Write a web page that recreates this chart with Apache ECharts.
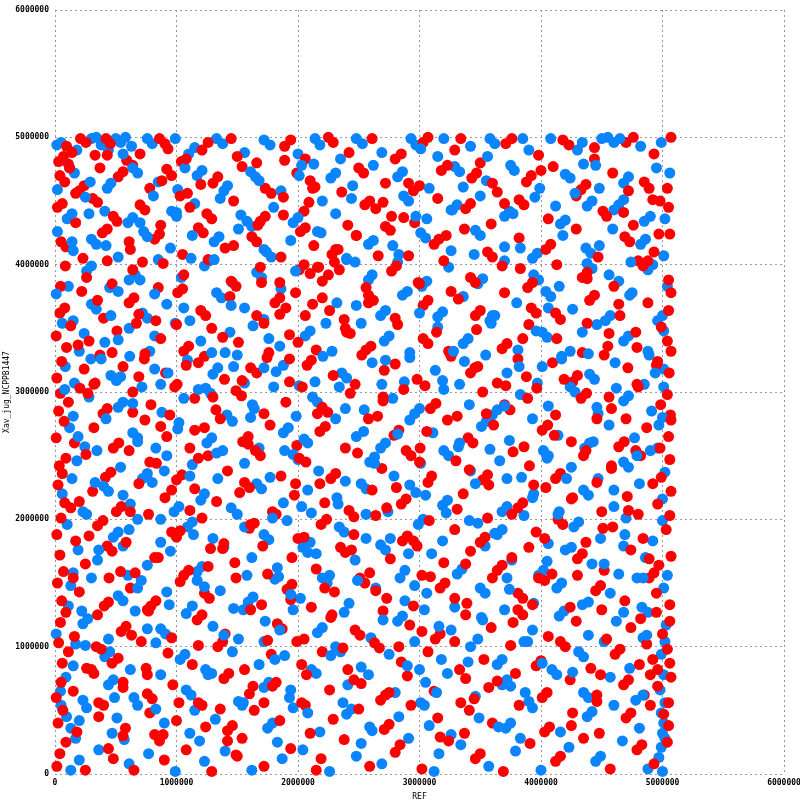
<!DOCTYPE html>
<html>
<head>
<meta charset="utf-8">
<script src="https://cdn.jsdelivr.net/npm/echarts@6/dist/echarts.min.js"></script>
<style>
html,body{margin:0;padding:0;background:#fff;}
#chart{width:800px;height:800px;}
</style>
</head>
<body>
<div id="chart"></div>
<script>
// positions in kb (x = REF, y = Xav_jug_NCPPB1447), read band by band from top to bottom
var redPts = [
[30,4810],[70,4850],[110,4790],[140,4880],[95,4930],[210,4990],[255,4960],[330,4860],[420,4990],[455,4950],[590,4820],[640,4780],[700,4870],[860,4990],[905,4950],[1040,4810],[1210,4900],[1260,4960],[1450,4990],[1500,4850],[1660,4800],[1890,4930],[1940,4980],[2060,4830],[2250,5000],[2290,4960],[2420,4880],[2610,4990],[2800,4830],[2850,4870],[3030,4960],[3070,5000],[3290,4900],[3340,4990],[3500,4800],[3710,4950],[3760,4990],[3980,4860],[4180,4980],[4230,4940],[4440,4830],[4700,4960],[4760,5000],[4930,4870],[5070,5000],
[40,4700],[80,4650],[200,4580],[240,4620],[370,4760],[520,4690],[560,4730],[780,4600],[920,4750],[960,4700],[1090,4560],[1300,4640],[1340,4690],[1540,4770],[1730,4600],[1780,4560],[1990,4720],[2100,4660],[2140,4610],[2360,4570],[2500,4760],[2540,4720],[2720,4640],[2950,4580],[3000,4620],[3180,4740],[3430,4680],[3470,4720],[3640,4570],[3880,4650],[3920,4700],[4100,4770],[4330,4590],[4370,4630],[4590,4720],[4850,4650],[4890,4600],[5040,4600],
[20,4450],[60,4480],[170,4330],[310,4520],[350,4490],[480,4380],[700,4470],[740,4430],[870,4310],[1030,4540],[1250,4400],[1290,4360],[1470,4500],[1690,4340],[1730,4380],[1880,4530],[2050,4420],[2410,4310],[2550,4470],[2590,4500],[2640,4440],[2700,4490],[2770,4380],[2960,4330],[3150,4520],[3380,4440],[3420,4480],[3590,4320],[3820,4510],[3860,4470],[4060,4360],[4290,4540],[4510,4420],[4540,4380],[4760,4310],[4980,4500],[5050,4450],
[50,4180],[90,4140],[230,4050],[390,4250],[430,4280],[620,4120],[820,4200],[860,4240],[1050,4080],[1180,4290],[1220,4250],[1400,4130],[1620,4220],[1660,4180],[1860,4060],[2020,4260],[2060,4290],[2130,4150],[2280,4080],[2330,4120],[2480,4230],[2720,4300],[2760,4270],[2910,4070],[3120,4160],[3160,4200],[3370,4280],[3560,4100],[3600,4060],[3820,4210],[4040,4120],[4080,4160],[4290,4280],[4470,4060],[4690,4220],[4730,4180],[4930,4100],[5060,4240],
[45,3830],[85,3990],[260,3900],[430,4030],[470,3850],[640,3960],[850,3820],[890,4010],[1060,3920],[1260,4040],[1450,3870],[1490,3830],[1690,3980],[1850,3860],[2010,3960],[2050,4000],[2100,3930],[2160,3980],[2200,3870],[2250,3920],[2300,4020],[2340,3960],[2560,3820],[2770,3950],[2810,3990],[3000,3850],[3200,4030],[3420,3900],[3460,3860],[3680,3990],[3890,3820],[3930,3860],[4130,4000],[4340,3900],[4380,3940],[4600,3830],[4840,3990],[4880,4030],[5050,3880],
[40,3620],[80,3660],[220,3790],[400,3580],[610,3700],[650,3740],[830,3560],[1010,3780],[1200,3640],[1240,3600],[1440,3750],[1660,3600],[1810,3700],[1850,3740],[1900,3660],[1980,3780],[2060,3600],[2120,3690],[2200,3740],[2260,3640],[2380,3570],[2580,3760],[2620,3720],[2800,3580],[3030,3680],[3070,3720],[3260,3790],[3460,3600],[3500,3640],[3700,3780],[3920,3660],[3960,3620],[4160,3570],[4400,3720],[4440,3760],[4650,3600],[4880,3700],[5050,3640],[5070,3780],
[10,3440],[95,3350],[130,3520],[280,3400],[470,3310],[510,3480],[670,3540],[870,3420],[1060,3320],[1100,3360],[1290,3500],[1510,3390],[1720,3540],[1760,3310],[1930,3450],[2150,3330],[2390,3500],[2430,3460],[2600,3360],[2820,3530],[3030,3420],[3070,3380],[3240,3320],[3470,3490],[3680,3340],[3720,3380],[3900,3530],[4130,3420],[4340,3310],[4380,3540],[4560,3460],[4790,3350],[4990,3510],[5040,3400],[5070,3320],
[15,3110],[55,3240],[240,3180],[330,3070],[370,3290],[560,3200],[690,3120],[735,3260],[910,3150],[1005,3060],[1180,3230],[1230,3280],[1395,3100],[1610,3190],[1660,3150],[1745,3270],[1930,3080],[2075,3210],[2110,3250],[2290,3130],[2470,3060],[2525,3290],[2710,3170],[2800,3220],[2980,3100],[3045,3050],[3260,3280],[3420,3150],[3455,3190],[3640,3070],[3810,3260],[3880,3120],[4095,3230],[4260,3080],[4300,3130],[4520,3290],[4715,3190],[4790,3060],[4960,3240],[5055,3150],
[30,2850],[45,2990],[110,2920],[205,3030],[395,2830],[430,2870],[640,3000],[790,2900],[945,2820],[985,3040],[1150,2950],[1325,2860],[1490,3010],[1535,2970],[1720,2830],[1900,2920],[2035,3040],[2200,2880],[2245,2840],[2430,2990],[2655,2810],[2700,2930],[2870,3020],[3090,2870],[3135,2910],[3310,2810],[3520,3000],[3700,2900],[3745,2860],[3965,3030],[4120,2820],[4330,2950],[4375,2990],[4580,2870],[4800,3040],[4985,2900],[5065,2820],[5040,2980],
[10,2640],[75,2770],[160,2600],[320,2720],[480,2560],[525,2600],[740,2780],[920,2650],[1110,2560],[1150,2700],[1360,2790],[1545,2610],[1590,2650],[1770,2740],[1990,2580],[2180,2690],[2225,2730],[2390,2560],[2580,2790],[2790,2660],[2830,2700],[3005,2560],[3230,2780],[3400,2640],[3440,2600],[3610,2740],[3860,2570],[4010,2700],[4055,2740],[4250,2610],[4460,2790],[4640,2570],[4685,2610],[4870,2720],[5050,2650],[5070,2780],
[35,2420],[60,2360],[255,2510],[415,2330],[460,2370],[610,2540],[835,2440],[1000,2310],[1045,2350],[1260,2500],[1420,2380],[1650,2540],[1690,2500],[1860,2340],[2065,2450],[2270,2320],[2310,2360],[2490,2520],[2690,2400],[2890,2540],[2930,2500],[3100,2340],[3300,2460],[3520,2310],[3560,2350],[3770,2530],[3905,2420],[4120,2320],[4160,2360],[4350,2500],[4580,2400],[4780,2540],[4820,2500],[4990,2330],[5060,2470],
[25,2270],[80,2130],[130,2090],[310,2220],[505,2060],[545,2100],[690,2280],[905,2170],[1110,2070],[1150,2240],[1330,2140],[1560,2290],[1600,2250],[1790,2060],[1970,2190],[2180,2280],[2220,2130],[2420,2070],[2610,2230],[2850,2120],[2890,2160],[3070,2290],[3310,2080],[3360,2200],[3570,2270],[3810,2090],[3850,2130],[4040,2250],[4250,2160],[4460,2290],[4500,2060],[4710,2180],[4920,2280],[4960,2120],[5070,2220],
[15,1880],[50,2010],[170,1830],[350,1950],[395,1990],[585,1820],[770,2040],[960,1900],[1000,1860],[1210,2010],[1390,1810],[1600,1930],[1640,1970],[1820,2040],[2000,1850],[2190,1960],[2235,2000],[2460,1880],[2640,2030],[2860,1830],[2900,1870],[3080,1990],[3290,1920],[3500,1820],[3540,1860],[3760,2040],[3960,1900],[4140,2000],[4180,1960],[4370,1820],[4590,1940],[4800,2040],[4840,1850],[5030,1920],[5060,2030],
[40,1720],[70,1590],[250,1650],[430,1790],[470,1750],[660,1580],[850,1700],[1060,1560],[1100,1600],[1280,1770],[1480,1660],[1710,1790],[1750,1570],[1950,1700],[2150,1610],[2350,1780],[2390,1740],[2590,1580],[2760,1690],[2980,1790],[3020,1560],[3200,1660],[3420,1750],[3640,1600],[3680,1640],[3900,1780],[4090,1570],[4300,1690],[4340,1730],[4520,1600],[4740,1760],[4930,1580],[4970,1640],[5070,1710],
[20,1500],[55,1360],[200,1430],[405,1320],[445,1540],[620,1460],[790,1320],[830,1360],[1030,1510],[1230,1420],[1270,1380],[1490,1540],[1700,1330],[1910,1450],[1950,1490],[2110,1310],[2300,1430],[2510,1540],[2550,1500],[2730,1380],[2950,1320],[3170,1460],[3210,1500],[3390,1340],[3600,1540],[3810,1420],[3850,1380],[4030,1520],[4240,1310],[4450,1440],[4490,1480],[4690,1360],[4890,1540],[4950,1420],[5060,1330],
[45,1190],[90,1270],[160,1080],[350,1250],[545,1120],[585,1160],[760,1290],[960,1070],[1170,1210],[1210,1250],[1400,1100],[1610,1290],[1830,1180],[1870,1140],[2050,1060],[2270,1230],[2470,1130],[2510,1090],[2700,1280],[2920,1170],[3130,1060],[3170,1100],[3380,1250],[3590,1150],[3810,1290],[3850,1250],[4060,1080],[4290,1200],[4500,1290],[4540,1060],[4740,1150],[4950,1270],[5000,1100],[5060,1200],
[30,1030],[60,870],[110,960],[300,820],[340,1000],[520,910],[710,1040],[750,830],[930,950],[1130,860],[1340,1000],[1380,1040],[1560,820],[1780,940],[1990,1040],[2030,860],[2200,960],[2410,820],[2630,1030],[2670,990],[2850,880],[3070,960],[3290,1040],[3330,820],[3530,900],[3750,1010],[3960,850],[4000,890],[4200,1000],[4410,830],[4610,940],[4650,980],[4810,860],[4870,1020],[4920,900],[4960,820],[5040,980],[5060,870],
[10,600],[50,720],[150,650],[320,790],[360,560],[560,680],[760,780],[800,590],[970,700],[1180,560],[1390,750],[1430,790],[1600,630],[1820,720],[2030,560],[2070,780],[2260,660],[2460,740],[2680,580],[2720,620],[2900,770],[3120,650],[3340,560],[3380,750],[3570,680],[3790,790],[4010,600],[4050,640],[4240,740],[4460,570],[4680,700],[4720,740],[4850,620],[4900,780],[4960,690],[5050,560],[5070,760],
[25,400],[65,500],[180,330],[360,450],[400,540],[580,360],[780,480],[820,310],[1000,420],[1210,540],[1420,340],[1460,380],[1640,500],[1850,420],[2060,540],[2100,320],[2290,430],[2500,510],[2710,350],[2750,390],[2930,540],[3150,440],[3370,320],[3410,500],[3600,400],[3820,540],[4030,330],[4070,370],[4260,480],[4480,320],[4700,440],[4740,480],[4900,540],[5050,380],
[15,60],[40,160],[90,250],[250,30],[440,200],[480,120],[650,30],[860,260],[900,110],[1080,190],[1290,20],[1500,140],[1540,280],[1720,60],[1940,200],[2150,30],[2190,120],[2380,270],[2590,60],[2800,170],[2840,230],[3020,40],[3240,260],[3460,120],[3500,160],[3690,20],[3910,240],[4120,100],[4160,140],[4350,280],[4570,40],[4790,190],[4830,230],[4930,80],[5040,250]
];

// further red marks filling the dense areas between the bands above
var redExtra = [
[2310,4120],[470,870],[3890,2950],[1260,1630],[4720,4580],[890,310],[3140,3470],[1980,2280],[560,720],[4380,3890],[2640,1440],[120,4760],[3560,2010],[1720,560],[4950,3210],[1030,1910],[2870,4370],[380,980],[4110,2660],[1490,150],[3320,3730],[770,1280],[2090,4490],[4580,2420],[260,830],[3710,3050],[1380,1770],[2480,4230],[5010,470],[640,2840],[3020,1120],[1850,3610],[4260,2170],[930,4910],[2750,640],[190,3370],[3980,1540],[1590,2590],[4800,4030],[1180,1010],
[2560,3330],[610,4180],[3450,590],[1940,1370],[4640,3690],[870,2730],[3230,4780],[1420,260],[4030,1850],[320,3060],[2810,2250],[1110,4450],[3770,1190],[2170,3980],[4490,780],[540,1590],[3060,2690],[1670,4310],[4890,1690],[1000,3530],[2370,990],[200,2140],[3600,4640],[1300,2960],[4250,380],[720,4020],[2950,1830],[1790,690],[4700,2790],[1080,3210],[2660,4070],[440,1350],[3850,3420],[2010,2480],[4440,4920],[820,1700],[3170,290],[1540,3090],[4980,2560],[1200,4630],
[2440,1760],[90,2480],[3480,3200],[1890,4820],[4160,1040],[690,3610],[2730,2090],[1360,510],[4550,3360],[960,2230],[3290,1380],[2120,4600],[4820,1220],[510,4340],[3940,2270],[1750,1050],[2580,3700],[280,1870],[3700,4480],[1230,2720],[4370,2540],[760,630],[2990,3860],[1610,1960],[4680,4410],[1050,3810],[2280,1250],[170,4560],[3410,2390],[1930,3260],[4920,4510],[620,2060],[3090,1550],[1470,4150],[4120,3620],[2520,710],[350,3720],[3760,1700],[2160,2830],[4510,1930],
[880,4660],[2830,1000],[1180,2480],[4000,4740],[2400,3470],[560,300],[3550,2830],[1700,3860],[4300,1560],[1020,560],[3000,2450],[2050,1860],[4780,3470],[740,3300],[3220,4230],[1520,2210],[4460,620],[270,2990],[3830,3970],[2220,1460],[4970,4240],[1240,370],[2700,2960],[630,1090],[3380,1650],[1880,4390],[4190,3100],[1080,4830],[2460,2020],[430,4860],[3640,730],[2000,3390],[4720,2070],[1380,3430],[2910,4640],[780,2450],[3930,1330],[1630,690],[4560,2960],[150,1540]
];

var bluePts = [
[15,4940],[50,4960],[180,4900],[300,4990],[340,5000],[380,4940],[440,4900],[500,4990],[540,4960],[580,5000],[630,4930],[760,4990],[800,4950],[990,4990],[1100,4870],[1150,4920],[1330,4990],[1380,4950],[1560,4880],[1720,4980],[1770,4940],[2000,4870],[2140,4990],[2180,4940],[2350,4830],[2480,4990],[2530,4950],[2690,4880],[2930,4990],[2970,4940],[3150,4850],[3200,4990],[3420,4930],[3580,4990],[3620,4950],[3850,4990],[3900,4900],[4080,4990],[4300,4900],[4340,4960],[4500,4990],[4550,5000],[4600,4960],[4650,4990],[4820,4930],[4990,4960],
[20,4590],[120,4760],[160,4720],[290,4650],[430,4600],[460,4640],[640,4760],[680,4720],[850,4650],[1010,4590],[1170,4700],[1210,4740],[1420,4620],[1610,4730],[1650,4690],[1860,4580],[2030,4780],[2270,4680],[2310,4720],[2450,4620],[2620,4780],[2820,4690],[2860,4730],[3080,4600],[3290,4770],[3330,4730],[3550,4660],[3750,4780],[3780,4740],[3990,4600],[4200,4710],[4240,4680],[4450,4780],[4480,4600],[4680,4640],[4720,4690],[4950,4760],[5060,4720],
[100,4360],[140,4400],[250,4530],[410,4420],[600,4330],[640,4370],[810,4540],[960,4420],[1000,4380],[1150,4480],[1360,4520],[1580,4340],[1620,4300],[1800,4450],[1960,4330],[2000,4370],[2200,4500],[2310,4400],[2870,4540],[2910,4500],[3060,4360],[3270,4430],[3310,4470],[3500,4540],[3700,4380],[3740,4420],[3950,4530],[4160,4320],[4200,4350],[4380,4460],[4420,4500],[4600,4430],[4640,4470],[4680,4510],[4850,4340],[5020,4360],
[20,4260],[150,4110],[300,4200],[340,4160],[520,4060],[730,4260],[760,4220],[950,4130],[1120,4050],[1310,4180],[1350,4220],[1510,4280],[1740,4100],[1780,4060],[1940,4190],[2190,4250],[2400,4050],[2580,4160],[2620,4190],[2830,4080],[3010,4250],[3050,4210],[3260,4110],[3460,4270],[3500,4230],[3700,4140],[3930,4050],[3970,4090],[4180,4230],[4370,4130],[4410,4090],[4590,4280],[4820,4160],[4860,4200],[5010,4070],
[110,3830],[260,3950],[300,3990],[450,3820],[660,3920],[700,3880],[850,4040],[1040,3900],[1230,3990],[1270,4030],[1460,3860],[1660,3940],[1700,3900],[1860,3810],[2400,4040],[2580,3880],[2610,3920],[2820,4020],[3020,3830],[3060,3870],[3240,3980],[3480,3850],[3520,3890],[3700,4030],[3940,3920],[3980,3880],[4150,3830],[4380,4010],[4420,3970],[4640,3870],[4880,3960],[4920,4000],[5040,3830],
[10,3770],[150,3560],[300,3690],[340,3650],[520,3790],[720,3620],[760,3580],[920,3690],[1110,3560],[1330,3780],[1370,3740],[1560,3660],[1720,3570],[2480,3680],[2680,3600],[2720,3640],[2900,3790],[3150,3590],[3190,3630],[3360,3750],[3580,3560],[3620,3600],[3800,3700],[4040,3790],[4080,3750],[4260,3650],[4530,3560],[4570,3600],[4750,3780],[4960,3560],[5000,3600],
[60,3540],[200,3320],[240,3460],[410,3390],[610,3500],[780,3320],[820,3440],[990,3540],[1200,3400],[1400,3310],[1440,3470],[1630,3520],[1850,3360],[2060,3440],[2100,3480],[2280,3320],[2520,3540],[2710,3400],[2750,3440],[2920,3310],[3150,3510],[3360,3380],[3400,3420],[3590,3540],[3810,3330],[4010,3470],[4050,3430],[4240,3320],[4460,3530],[4680,3400],[4720,3440],[4880,3320],[5010,3480],
[85,3200],[160,3070],[295,3260],[460,3130],[505,3090],[615,3280],[820,3180],[870,3060],[1090,3250],[1300,3140],[1340,3190],[1500,3290],[1560,3070],[1820,3160],[1880,3210],[2010,3050],[2205,3280],[2360,3150],[2400,3110],[2610,3230],[2875,3080],[2920,3270],[3130,3170],[3330,3060],[3370,3240],[3545,3290],[3720,3150],[3970,3070],[4010,3200],[4170,3280],[4400,3140],[4440,3100],[4610,3230],[4850,3060],[4890,3290],[5010,3180],
[150,2810],[280,2960],[520,2880],[560,2920],[715,3040],[880,2840],[1060,2950],[1240,3030],[1280,2990],[1415,2820],[1625,2900],[1800,3040],[1985,2810],[2120,2960],[2160,2920],[2340,3040],[2545,2860],[2780,2950],[2960,2830],[3000,2870],[3200,3020],[3410,2900],[3600,2820],[3640,2860],[3830,2980],[4060,2890],[4240,3040],[4280,3000],[4470,2830],[4680,2930],[4720,2970],[4910,2850],[5010,3040],
[120,2720],[245,2570],[420,2790],[640,2680],[680,2640],[830,2560],[1020,2760],[1250,2600],[1290,2640],[1460,2770],[1680,2560],[1880,2680],[1920,2720],[2080,2600],[2310,2790],[2480,2650],[2680,2560],[2720,2600],[2920,2780],[3110,2680],[3320,2570],[3510,2730],[3550,2770],[3740,2620],[3930,2790],[4140,2660],[4360,2560],[4400,2600],[4560,2740],[4770,2640],[4960,2560],[5000,2800],
[140,2320],[180,2460],[345,2540],[540,2410],[720,2320],[760,2360],[920,2500],[1130,2430],[1340,2320],[1380,2540],[1560,2440],[1770,2330],[1960,2510],[2000,2470],[2170,2380],[2390,2300],[2590,2450],[2630,2490],[2790,2340],[3010,2440],[3200,2540],[3240,2500],[3420,2380],[3660,2460],[3840,2330],[4020,2540],[4060,2500],[4250,2410],[4470,2320],[4680,2450],[4720,2410],[4900,2540],[5020,2370],
[60,2200],[230,2060],[400,2260],[440,2220],[620,2120],[800,2290],[980,2060],[1020,2100],[1230,2200],[1450,2090],[1660,2280],[1700,2240],[1880,2130],[2080,2230],[2110,2050],[2320,2170],[2520,2280],[2560,2240],[2740,2060],[2970,2210],[3190,2110],[3230,2150],[3460,2280],[3680,2060],[3720,2100],[3940,2200],[4150,2060],[4350,2230],[4390,2190],[4600,2100],[4810,2280],[5000,2160],
[100,1960],[260,2040],[480,1860],[520,1900],[680,2000],[870,1820],[1090,1940],[1130,1980],[1300,1850],[1500,2040],[1720,1880],[1760,1840],[1910,1990],[2100,1820],[2340,1940],[2380,1900],[2560,2040],[2760,1850],[2990,1960],[3030,2000],[3190,1830],[3410,1990],[3640,1880],[3680,1920],[3860,2030],[4060,1810],[4270,1940],[4310,1980],[4490,1850],[4700,2010],[4920,1830],[5000,1990],
[150,1580],[190,1760],[350,1680],[560,1790],[600,1560],[760,1640],[950,1750],[1170,1590],[1210,1630],[1390,1780],[1580,1560],[1620,1700],[1830,1620],[2040,1780],[2080,1740],[2260,1560],[2470,1680],[2680,1800],[2720,1760],[2880,1600],[3100,1730],[3310,1570],[3350,1610],[3540,1790],[3760,1680],[3980,1560],[4020,1600],[4200,1760],[4420,1650],[4640,1570],[4680,1790],[4860,1700],[5040,1560],
[110,1320],[130,1480],[300,1540],[520,1400],[560,1360],[710,1520],[920,1430],[1130,1320],[1170,1520],[1360,1440],[1590,1350],[1630,1390],[1810,1530],[2020,1380],[2200,1540],[2240,1500],[2420,1340],[2640,1460],[2840,1540],[2880,1360],[3060,1420],[3290,1310],[3500,1460],[3540,1420],[3720,1540],[3940,1340],[4130,1460],[4170,1500],[4340,1330],[4570,1420],[4790,1540],[4830,1310],[5010,1460],
[10,1100],[230,1180],[270,1220],[440,1060],[660,1280],[870,1140],[910,1100],[1080,1260],[1300,1160],[1510,1060],[1550,1290],[1730,1200],[1960,1290],[2160,1110],[2200,1150],[2380,1270],[2600,1070],[2820,1200],[2860,1240],[3040,1290],[3260,1130],[3480,1060],[3520,1210],[3700,1290],[3930,1130],[4150,1240],[4190,1280],[4390,1090],[4620,1200],[4840,1070],[4880,1270],[5030,1170],
[150,850],[170,1020],[410,920],[450,960],[620,820],[830,1030],[1030,900],[1070,940],[1240,820],[1460,960],[1680,860],[1720,1040],[1890,930],[2110,820],[2310,1000],[2350,960],[2520,840],[2750,940],[2960,1040],[3000,820],[3180,900],[3420,1000],[3640,860],[3680,900],[3860,1040],[4090,820],[4310,960],[4350,920],[4520,1040],[4730,830],[4990,940],[5020,1040],
[45,650],[90,760],[230,580],[440,700],[480,740],[650,600],[870,780],[1080,660],[1120,620],[1290,790],[1510,570],[1720,680],[1760,720],[1930,600],[2150,790],[2370,560],[2410,700],[2580,780],[2800,640],[3010,560],[3050,720],[3230,790],[3460,610],[3680,700],[3720,740],[3900,570],[4130,780],[4350,640],[4390,600],[4570,760],[4780,580],[4980,660],[5010,780],[5020,560],
[50,540],[95,450],[130,360],[200,420],[260,520],[470,320],[510,440],[680,540],[900,400],[1110,320],[1150,500],[1320,430],[1540,540],[1750,360],[1790,400],[1960,520],[2180,330],[2400,470],[2440,510],[2610,340],[2830,450],[3040,540],[3080,380],[3260,310],[3490,440],[3710,360],[3750,400],[3930,520],[4160,330],[4380,450],[4420,490],[4600,540],[4810,360],[4990,480],[5010,400],[5000,320],
[130,30],[170,280],[200,110],[360,190],[570,270],[610,80],[770,160],[990,20],[1190,260],[1230,100],[1400,180],[1620,30],[1830,250],[1870,120],[2040,190],[2260,20],[2480,140],[2520,240],[2690,80],[2910,280],[3120,20],[3160,160],[3340,230],[3570,60],[3790,180],[3830,280],[4000,30],[4230,210],[4450,100],[4490,140],[4670,260],[4880,40],[4970,130],[5000,20],[4990,210],[5020,280]
];

// further blue marks filling the dense areas between the bands above
var blueExtra = [
[1640,2870],[3870,640],[420,4150],[2910,1730],[4560,3920],[1110,2340],[3360,4610],[680,1460],[2230,3540],[4870,1090],[1530,4390],[3050,2190],[250,1010],[4170,3260],[1940,660],[3620,1890],[820,3770],[2700,1210],[4430,2610],[1310,4040],
[2050,2630],[3960,3480],[560,2190],[2440,4520],[4690,1880],[1260,780],[3190,3090],[140,4180],[3740,1450],[1790,2010],[4280,4560],[930,3150],[2590,370],[4970,2740],[1450,3680],[3510,1230],[680,2610],[2160,4260],[4010,870],[1140,1880],
[2860,3760],[360,1760],[3450,4080],[1850,1130],[4620,3030],[1000,4410],[3220,2050],[1610,2800],[4390,1350],[520,3410],[2490,1520],[3770,4400],[1290,3310],[4840,620],[2150,1730],[80,3020],[3010,4910],[1980,3950],[4210,2320],[760,1140],
[2630,2440],[4480,4150],[1390,1090],[3580,2550],[280,4400],[2780,4150],[4050,1670],[1550,560],[3280,3320],[870,2000],[4730,3760],[2010,4700],[3650,370],[1180,3020],[2390,2870],[490,600],[3930,2170],[1720,4120],[4340,3470],[2900,850],
[1070,4760],[3480,1970],[610,3880],[2330,2120],[4600,2230],[1840,1550],[3140,640],[330,2290],[4120,4460],[1470,3200],[2720,3250],[4900,4380],[940,1330],[3700,2890],[2080,480],[4260,800],[1330,2520],[2970,4380],[540,3120],[3830,4130],
[1760,3420],[4520,1650],[1010,2710],[3330,2600],[2270,930],[4790,2500],[190,2650],[3560,4850],[1560,1940],[2820,2670],[4060,3660],[700,4330],[2470,4020],[3890,1040],[1230,1470],[4940,3150],[2140,3080],[610,1920],[3160,1160],[1890,2540],
[4350,4790],[1390,4580],[2960,1480],[460,3600],[3720,2320],[1810,900],[4680,1270],[1060,3660],[2560,1850],[3260,4430],[220,1280],[4140,2040],[1680,4660],[3000,3620],[830,510],[4460,2880],[2320,3700],[1200,2150],[3820,3200],[560,4870],
[2690,3060],[4050,2480],[1470,1300],[3400,880],[2130,4790],[4740,4020],[900,2380],[2920,2270],[1720,3190],[4250,1780],[380,3260],[3600,3600],[1940,1410],[4840,1540],[1130,4230],[2540,2690],[3750,690],[640,2910],[4390,3300],[2030,2100]
];

var axisTicks = [0, 1000000, 2000000, 3000000, 4000000, 5000000, 6000000];
var redColor = '#ff0000';
var blueColor = '#0a84ff';

var reds = redPts.concat(redExtra);
var blues = bluePts.concat(blueExtra);

// interleave the two groups so neither colour sits entirely on top
var points = [];
var n = Math.max(reds.length, blues.length);
for (var i = 0; i < n; i++) {
  if (i < reds.length) {
    points.push({value: [reds[i][0] * 1000, reds[i][1] * 1000], itemStyle: {color: redColor}});
  }
  if (i < blues.length) {
    points.push({value: [blues[i][0] * 1000, blues[i][1] * 1000], itemStyle: {color: blueColor}});
  }
}

var labelFont = {
  color: '#000',
  fontFamily: 'DejaVu Sans Mono',
  fontSize: 8,
  fontWeight: 'bold',
  formatter: function (v) { return String(v); }
};

var myChart = echarts.init(document.getElementById('chart'), null, {renderer: 'canvas'});
var option = {
  animation: false,
  backgroundColor: '#fff',
  grid: {left: 55, right: 16, top: 10, bottom: 26, containLabel: false, outerBoundsMode: 'none'},
  xAxis: {
    type: 'value',
    min: axisTicks[0],
    max: axisTicks[axisTicks.length - 1],
    interval: 1000000,
    name: 'REF',
    nameLocation: 'middle',
    nameGap: 19,
    nameMoveOverlap: false,
    nameTextStyle: {color: '#000', fontFamily: 'DejaVu Sans Mono', fontSize: 8},
    axisLine: {show: false},
    axisTick: {show: false},
    axisLabel: Object.assign({margin: 5}, labelFont),
    splitLine: {show: true, lineStyle: {color: '#999', type: [2, 3], width: 1}}
  },
  yAxis: {
    type: 'value',
    min: axisTicks[0],
    max: axisTicks[axisTicks.length - 1],
    interval: 1000000,
    name: 'Xav_jug_NCPPB1447',
    nameLocation: 'middle',
    nameGap: 44,
    nameMoveOverlap: false,
    nameTextStyle: {color: '#000', fontFamily: 'DejaVu Sans Mono', fontSize: 8},
    axisLine: {show: false},
    axisTick: {show: false},
    axisLabel: Object.assign({margin: 6}, labelFont),
    splitLine: {show: true, lineStyle: {color: '#999', type: [2, 3], width: 1}}
  },
  series: [{
    type: 'scatter',
    symbol: 'circle',
    symbolSize: 11,
    itemStyle: {opacity: 1},
    data: points
  }]
};
myChart.setOption(option);
</script>
</body>
</html>
